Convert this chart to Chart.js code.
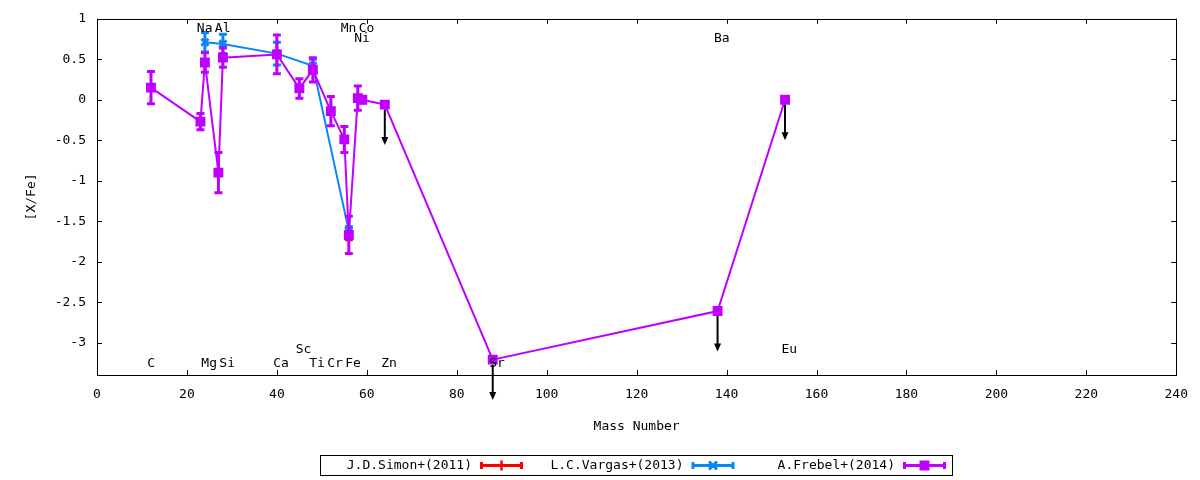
<!DOCTYPE html>
<html>
<head>
<meta charset="utf-8">
<script src="https://cdn.jsdelivr.net/npm/chart.js@4.4.0/dist/chart.umd.min.js"></script>
<style>
  html, body { margin: 0; padding: 0; background: #fff; }
  #wrap { width: 1200px; height: 480px; }
</style>
</head>
<body>
<div id="wrap"><canvas id="abundChart"></canvas></div>
<script>
// element labels along the plot
const elements = ['C', 'Na', 'Mg', 'Al', 'Si', 'Ca', 'Sc', 'Ti', 'Cr', 'Mn', 'Fe', 'Ni', 'Co', 'Zn', 'Sr', 'Ba', 'Eu'];
const elementMass = [12, 23, 24, 27, 28, 40, 45, 48, 52, 55, 56, 58, 59, 64, 88, 138, 153];
const elementRow = ['low', 'high', 'low', 'high', 'low', 'low', 'low2', 'low', 'low', 'high', 'low', 'high2', 'high', 'low', 'low', 'high2', 'low2'];

// J.D.Simon+(2011)
const simonMass = [56];
const simonValues = [-1.7];
const simonErrors = [0.03];

// L.C.Vargas+(2013)
const vargasMass = [24, 28, 40, 48, 56];
const vargasValues = [0.71, 0.69, 0.57, 0.42, -1.62];
const vargasErrors = [0.12, 0.12, 0.14, 0.08, 0.05];

// A.Frebel+(2014)
const frebelMass = [12, 23, 24, 27, 28, 40, 45, 48, 52, 55, 56, 58, 59, 64, 88, 138, 153];
const frebelValues = [0.15, -0.27, 0.46, -0.9, 0.52, 0.56, 0.14, 0.37, -0.14, -0.49, -1.67, 0.02, 0.0, -0.06, -3.21, -2.61, 0.0];
const frebelErrors = [0.2, 0.1, 0.12, 0.25, 0.12, 0.24, 0.12, 0.15, 0.18, 0.16, 0.23, 0.15, 0.04, null, null, null, null];
const frebelLimit = [false, false, false, false, false, false, false, false, false, false, false, false, false, true, true, true, true];

// axis ticks
const xTicks = [0, 20, 40, 60, 80, 100, 120, 140, 160, 180, 200, 220, 240];
const yTicks = [1, 0.5, 0, -0.5, -1, -1.5, -2, -2.5, -3];

const RED = '#ff0000';
const BLUE = '#0a86f6';
const PURPLE = '#c000ff';
const FONT = 'DejaVu Sans Mono';

Chart.defaults.font.family = FONT;
Chart.defaults.font.size = 13;
Chart.defaults.color = '#000';

function toPoints(xs, ys) {
    return xs.map((x, i) => ({ x: x, y: ys[i] }));
}

// gnuplot-ish point shapes, used for the legend samples
function drawMarker(ctx, style, x, y, color) {
    ctx.save();
    ctx.fillStyle = color;
    ctx.strokeStyle = color;
    if (style === 'rect') {
        ctx.fillRect(x - 5, y - 5, 10, 10);
    } else if (style === 'crossRot') {
        ctx.lineWidth = 3;
        ctx.beginPath();
        ctx.moveTo(x - 4, y - 4); ctx.lineTo(x + 4, y + 4);
        ctx.moveTo(x + 4, y - 4); ctx.lineTo(x - 4, y + 4);
        ctx.stroke();
    } else {
        ctx.lineWidth = 2.5;
        ctx.beginPath();
        ctx.moveTo(x, y - 5); ctx.lineTo(x, y + 5);
        ctx.stroke();
    }
    ctx.restore();
}

const gnuplotLook = {
    id: 'gnuplotLook',
    // error bars under each series' own points
    beforeDatasetDraw(chart, args) {
        const ds = chart.data.datasets[args.index];
        if (!ds.errors) return;
        const ctx = chart.ctx;
        const xs = chart.scales.x, ys = chart.scales.y;
        ctx.save();
        ctx.strokeStyle = ds.borderColor;
        ctx.lineWidth = 3;
        ds.data.forEach((p, i) => {
            const e = ds.errors[i];
            if (e === null || e === undefined) return;
            const px = xs.getPixelForValue(p.x);
            const top = ys.getPixelForValue(p.y + e);
            const bot = ys.getPixelForValue(p.y - e);
            ctx.beginPath();
            ctx.moveTo(px, top); ctx.lineTo(px, bot);
            ctx.moveTo(px - 4, top); ctx.lineTo(px + 4, top);
            ctx.moveTo(px - 4, bot); ctx.lineTo(px + 4, bot);
            ctx.stroke();
        });
        ctx.restore();
    },
    afterDatasetsDraw(chart) {
        const ctx = chart.ctx;
        const xs = chart.scales.x, ys = chart.scales.y;
        // upper limit arrows
        ctx.save();
        ctx.strokeStyle = '#000';
        ctx.fillStyle = '#000';
        ctx.lineWidth = 2;
        frebelMass.forEach((m, i) => {
            if (!frebelLimit[i]) return;
            const px = xs.getPixelForValue(m);
            const y0 = ys.getPixelForValue(frebelValues[i]) + 5;
            const y1 = ys.getPixelForValue(frebelValues[i] - 0.5);
            ctx.beginPath();
            ctx.moveTo(px, y0); ctx.lineTo(px, y1 - 6);
            ctx.stroke();
            ctx.beginPath();
            ctx.moveTo(px - 3.5, y1 - 8); ctx.lineTo(px + 3.5, y1 - 8); ctx.lineTo(px, y1);
            ctx.closePath();
            ctx.fill();
        });
        ctx.restore();
    },
    afterDraw(chart) {
        const ctx = chart.ctx;
        const a = chart.chartArea;
        const xs = chart.scales.x, ys = chart.scales.y;
        ctx.save();
        // frame
        ctx.strokeStyle = '#000';
        ctx.lineWidth = 1;
        ctx.strokeRect(Math.round(a.left) + 0.5, Math.round(a.top) + 0.5, Math.round(a.right - a.left), Math.round(a.bottom - a.top));
        // inward ticks on all four sides
        ctx.beginPath();
        xTicks.forEach(v => {
            const px = Math.round(xs.getPixelForValue(v)) + 0.5;
            ctx.moveTo(px, a.bottom); ctx.lineTo(px, a.bottom - 5);
            ctx.moveTo(px, a.top); ctx.lineTo(px, a.top + 5);
        });
        yTicks.forEach(v => {
            const py = Math.round(ys.getPixelForValue(v)) + 0.5;
            ctx.moveTo(a.left, py); ctx.lineTo(a.left + 5, py);
            ctx.moveTo(a.right, py); ctx.lineTo(a.right - 5, py);
        });
        ctx.stroke();

        // element names
        const rowY = { high: 0.88, high2: 0.755, low: -3.26, low2: -3.085 };
        ctx.font = '13px "' + FONT + '"';
        ctx.fillStyle = '#000';
        ctx.textAlign = 'left';
        ctx.textBaseline = 'middle';
        elements.forEach((el, i) => {
            const px = xs.getPixelForValue(elementMass[i] - 0.8);
            const py = ys.getPixelForValue(rowY[elementRow[i]]);
            ctx.fillText(el, px, py);
        });

        // legend box
        const lx = 320, ly = 455, lw = 632, lh = 20;
        ctx.strokeRect(lx + 0.5, ly + 0.5, lw, lh);
        const cy = ly + 10.5;
        chart.data.datasets.forEach((ds, i) => {
            const sx = 480 + i * 211.5;
            ctx.textAlign = 'right';
            ctx.fillStyle = '#000';
            ctx.fillText(ds.label, sx - 8, cy);
            ctx.strokeStyle = ds.borderColor;
            ctx.lineWidth = 3;
            ctx.beginPath();
            ctx.moveTo(sx, cy); ctx.lineTo(sx + 43, cy);
            ctx.moveTo(sx + 1.5, cy - 3.5); ctx.lineTo(sx + 1.5, cy + 3.5);
            ctx.moveTo(sx + 41.5, cy - 3.5); ctx.lineTo(sx + 41.5, cy + 3.5);
            ctx.stroke();
            drawMarker(ctx, ds.pointStyle, sx + 21.5, cy, ds.borderColor);
        });
        ctx.restore();
    }
};

const ctx = document.getElementById('abundChart').getContext('2d');
const abundChart = new Chart(ctx, {
    type: 'line',
    data: {
        datasets: [{
            label: 'J.D.Simon+(2011)',
            data: toPoints(simonMass, simonValues),
            errors: simonErrors,
            order: 3,
            borderColor: RED,
            backgroundColor: RED,
            borderWidth: 2,
            pointStyle: 'cross',
            pointRadius: 4,
            pointBorderWidth: 2
        }, {
            label: 'L.C.Vargas+(2013)',
            data: toPoints(vargasMass, vargasValues),
            errors: vargasErrors,
            order: 2,
            borderColor: BLUE,
            backgroundColor: BLUE,
            borderWidth: 2,
            pointStyle: 'crossRot',
            pointRadius: 5,
            pointBorderWidth: 3
        }, {
            label: 'A.Frebel+(2014)',
            data: toPoints(frebelMass, frebelValues),
            errors: frebelErrors,
            order: 1,
            borderColor: PURPLE,
            backgroundColor: PURPLE,
            borderWidth: 2,
            pointStyle: 'rect',
            pointRadius: 7,
            pointBorderWidth: 0
        }]
    },
    options: {
        responsive: true,
        maintainAspectRatio: false,
        animation: false,
        devicePixelRatio: 1,
        layout: { padding: { top: 18, right: 23, left: 0, bottom: 0 } },
        plugins: {
            legend: { display: false },
            tooltip: { enabled: false }
        },
        elements: { line: { tension: 0 } },
        scales: {
            x: {
                type: 'linear',
                min: 0,
                max: 240,
                afterBuildTicks: axis => { axis.ticks = xTicks.map(v => ({ value: v })); },
                afterFit: axis => { axis.height = 105; },
                grid: { display: false, drawTicks: false },
                border: { display: false },
                ticks: { padding: 12, maxRotation: 0, autoSkip: false, callback: v => String(v) },
                title: { display: true, text: 'Mass Number', padding: { top: 0, bottom: 46 } }
            },
            y: {
                type: 'linear',
                min: -3.4,
                max: 1,
                afterBuildTicks: axis => { axis.ticks = yTicks.map(v => ({ value: v })); },
                afterFit: axis => { axis.width = 97; },
                grid: { display: false, drawTicks: false },
                border: { display: false },
                ticks: { padding: 11, autoSkip: false, callback: v => String(v) },
                title: { display: true, text: '[X/Fe]', padding: { top: 24, bottom: 0 } }
            }
        }
    },
    plugins: [gnuplotLook]
});
</script>
</body>
</html>
